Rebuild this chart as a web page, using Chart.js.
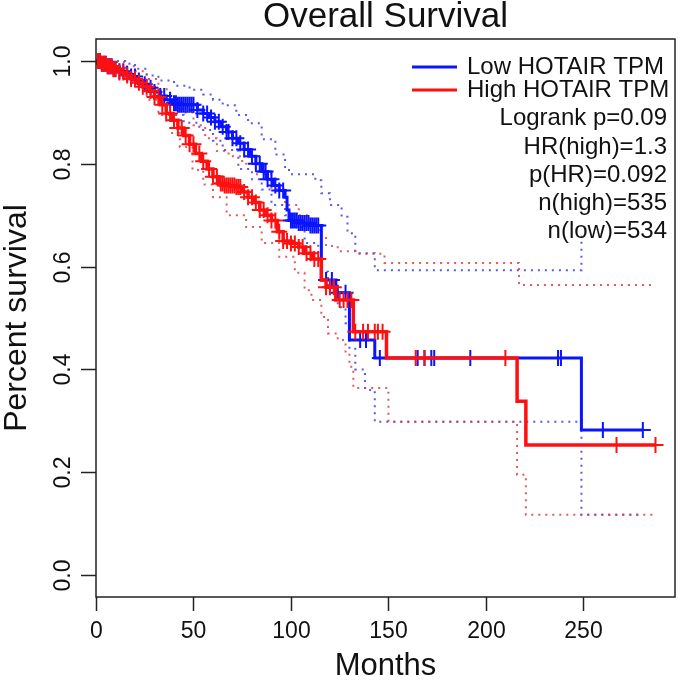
<!DOCTYPE html>
<html>
<head>
<meta charset="utf-8">
<script src="https://cdn.jsdelivr.net/npm/chart.js@4.4.1/dist/chart.umd.min.js"></script>
<style>
html,body{margin:0;padding:0;background:#fff;}
canvas{display:block;}
</style>
</head>
<body>
<canvas id="c" width="685" height="688"></canvas>
<script>
// ---- Data ----
const titleText = "Overall Survival";
const xTitle = "Months";
const yTitle = "Percent survival";
const xTickValues = [0, 50, 100, 150, 200, 250];
const yTickValues = [0.0, 0.2, 0.4, 0.6, 0.8, 1.0];
const yTickLabels = ["0.0", "0.2", "0.4", "0.6", "0.8", "1.0"];
const legendLabels = ["Low HOTAIR TPM", "High HOTAIR TPM"];
const statLines = ["Logrank p=0.09", "HR(high)=1.3", "p(HR)=0.092", "n(high)=535", "n(low)=534"];

// Low HOTAIR (blue) Kaplan-Meier curve
const lowMonths = [0,3,6,9,12,15,18,21,24,27,30,33,36,39,42,52,55,58,61,64,67,70,73,76,79,82,85,88,91,94,97,98,99,104,110,115.6,123,130,143,249,280.5];
const lowSurv   = [1,0.995,0.99,0.985,0.98,0.975,0.97,0.962,0.955,0.948,0.94,0.932,0.925,0.918,0.915,0.905,0.898,0.89,0.882,0.872,0.862,0.85,0.84,0.828,0.815,0.8,0.785,0.77,0.758,0.748,0.735,0.71,0.69,0.685,0.68,0.574,0.549,0.457,0.422,0.282,0.282];
const lowCensor = [1,2,3,4,5,6,7,8,9,10,12,14,16,18,20,22,25,28,30,33,35,38,40,41,42,43,44,45,46,47,48,49,50,52,55,57,59,61,63,65,67,68,70,72,74,76,78,80,82,84,86,87,88,90,92,94,96,100,101,102,103,104,105,106,107,108,109,110,111,112,113,114,118,121,124,128,135.5,138.5,145.6,165,168.5,172,173.5,192,237,238.5,260,280.5];

// High HOTAIR (red) Kaplan-Meier curve
const highMonths = [0,3,6,9,12,15,18,21,24,27,30,33,36,39,42,45,48,51,54,57,60,63,66,72,75,78,81,84,87,90,93,96,100,104,107,111,115.6,118,123,132,149,216,220.5,287];
const highSurv   = [1,0.995,0.99,0.984,0.978,0.972,0.965,0.958,0.95,0.942,0.93,0.915,0.898,0.885,0.87,0.855,0.838,0.82,0.805,0.79,0.775,0.762,0.758,0.755,0.745,0.735,0.725,0.71,0.7,0.69,0.668,0.65,0.645,0.638,0.626,0.615,0.574,0.56,0.535,0.473,0.422,0.338,0.253,0.253];
const highCensor = [1,2,3,4,5,6,7,8,9,10,12,14,16,18,20,22,24,26,28,30,32,34,36,38,40,42,44,46,48,50,53,55,58,60,62,64,65,66,67,68,69,70,71,72,73,74,76,78,80,82,84,86,88,90,92,94,96,98,100,102,104,106,108,110,112,114,118,120,122,125,127,129,131,133,137,139.5,143,144.6,147,164,168.5,210,267,287];

// 95% confidence bands (dotted)
const lowUpperMonths = [0,8,15,20,26,32,40,48,55,60,65,72,78,85,92,97,99,112.5,115.6,120,126,129,133,143,249];
const lowUpperSurv   = [1,1,0.995,0.985,0.972,0.962,0.952,0.944,0.935,0.925,0.914,0.895,0.879,0.848,0.818,0.79,0.78,0.768,0.743,0.72,0.697,0.665,0.626,0.593,0.66];
const lowLowerMonths = [0,8,15,20,26,32,38,45,53,60,65,73,80,85,90,97,102,107,114,115.6,119,124,128,130,133,138,143,249,280.5];
const lowLowerSurv   = [1,0.99,0.975,0.962,0.945,0.92,0.895,0.88,0.866,0.845,0.827,0.79,0.77,0.75,0.72,0.7,0.677,0.646,0.619,0.59,0.554,0.521,0.49,0.44,0.4,0.36,0.298,0.117,0.117];
const highUpperMonths = [0,8,15,20,26,32,38,44,50,56,62,68,75,82,90,97,104,110,115,118,124,133,148,217,287];
const highUpperSurv   = [1,0.998,0.99,0.98,0.965,0.945,0.925,0.9,0.875,0.85,0.825,0.815,0.8,0.78,0.75,0.72,0.7,0.68,0.66,0.64,0.63,0.625,0.607,0.564,0.564];
const highLowerMonths = [0,8,15,20,26,32,38,43,49.5,55,60,67,77,85,94,102,107,110.5,115.6,119,124,128,130,132,150,216,220.5,287];
const highLowerSurv   = [1,0.985,0.965,0.95,0.925,0.895,0.86,0.833,0.788,0.76,0.735,0.7,0.677,0.646,0.619,0.588,0.554,0.535,0.502,0.47,0.457,0.432,0.405,0.364,0.298,0.195,0.117,0.117];

// ---- helpers ----
function pts(xs, ys){ return xs.map((x,i)=>({x:x, y:ys[i]})); }
function stepValue(xs, ys, t){
  let v = ys[0];
  for (let i=0;i<xs.length;i++){ if (xs[i] <= t) v = ys[i]; else break; }
  return v;
}
function censorPts(times, xs, ys){ return times.map(t=>({x:t, y:stepValue(xs, ys, t)})); }

const BLUE = '#0a14ff';
const RED = '#ff1010';
const BLUE_CI = 'rgba(60,60,230,0.85)';
const RED_CI = 'rgba(225,60,70,0.85)';
const FONT = '"Liberation Sans", Arial, Helvetica, sans-serif';

function ciSet(xs, ys, color){
  return {type:'line', data:pts(xs,ys), borderColor:color, borderWidth:2, borderDash:[2,5], pointRadius:0, stepped:true, fill:false};
}

const decor = {
  id:'decor',
  afterDatasetsDraw(chart){
    const ctx = chart.ctx, a = chart.chartArea;
    const xs = chart.scales.x, ys = chart.scales.y;
    ctx.save();
    // box
    ctx.strokeStyle = '#222'; ctx.lineWidth = 1.5;
    ctx.strokeRect(a.left, a.top, a.right - a.left, a.bottom - a.top);
    // x ticks
    ctx.fillStyle = '#111';
    ctx.font = '23px ' + FONT;
    ctx.textAlign = 'center'; ctx.textBaseline = 'middle';
    xTickValues.forEach(v=>{
      const px = Math.round(xs.getPixelForValue(v)) + 0.5;
      ctx.beginPath(); ctx.moveTo(px, a.bottom); ctx.lineTo(px, a.bottom + 14); ctx.stroke();
      ctx.fillText(String(v), px, 632);
    });
    // y ticks (rotated labels)
    yTickValues.forEach((v,i)=>{
      const py = Math.round(ys.getPixelForValue(v)) + 0.5;
      ctx.beginPath(); ctx.moveTo(a.left, py); ctx.lineTo(a.left - 15, py); ctx.stroke();
      ctx.save(); ctx.translate(64, py); ctx.rotate(-Math.PI/2);
      ctx.fillText(yTickLabels[i], 0, 0); ctx.restore();
    });
    // titles
    ctx.font = '35px ' + FONT;
    ctx.fillText(titleText, (a.left + a.right)/2, 17);
    ctx.font = '31px ' + FONT;
    ctx.fillText(xTitle, (a.left + a.right)/2, 666);
    ctx.save(); ctx.translate(17, 318); ctx.rotate(-Math.PI/2);
    ctx.font = '32px ' + FONT;
    ctx.fillText(yTitle, 0, 0); ctx.restore();
    // legend
    ctx.font = '24px ' + FONT;
    ctx.textAlign = 'left';
    const ly = [67, 90];
    [BLUE, RED].forEach((c,i)=>{
      ctx.strokeStyle = c; ctx.lineWidth = 3;
      ctx.beginPath(); ctx.moveTo(412, ly[i]); ctx.lineTo(457, ly[i]); ctx.stroke();
      ctx.fillText(legendLabels[i], 467, ly[i]);
    });
    ctx.textAlign = 'right';
    const sy = [118, 147, 175, 203, 231];
    statLines.forEach((s,i)=> ctx.fillText(s, 667, sy[i]));
    ctx.restore();
  }
};

new Chart(document.getElementById('c'), {
  type:'scatter',
  data:{
    datasets:[
      {type:'scatter', data:censorPts(highCensor, highMonths, highSurv), pointStyle:'cross', pointRadius:8, borderColor:RED, borderWidth:2, backgroundColor:RED},
      {type:'line', data:pts(highMonths, highSurv), borderColor:RED, borderWidth:3.5, pointRadius:0, stepped:true, fill:false},
      {type:'scatter', data:censorPts(lowCensor, lowMonths, lowSurv), pointStyle:'cross', pointRadius:8, borderColor:BLUE, borderWidth:2, backgroundColor:BLUE},
      {type:'line', data:pts(lowMonths, lowSurv), borderColor:BLUE, borderWidth:3, pointRadius:0, stepped:true, fill:false},
      ciSet(highUpperMonths, highUpperSurv, RED_CI),
      ciSet(highLowerMonths, highLowerSurv, RED_CI),
      ciSet(lowUpperMonths, lowUpperSurv, BLUE_CI),
      ciSet(lowLowerMonths, lowLowerSurv, BLUE_CI)
    ]
  },
  options:{
    responsive:false, animation:false, devicePixelRatio:1,
    layout:{padding:{left:96, right:5, top:39, bottom:91}},
    plugins:{legend:{display:false}, tooltip:{enabled:false}, title:{display:false}},
    scales:{
      x:{type:'linear', min:0, max:297, display:false},
      y:{type:'linear', min:-0.043, max:1.043, display:false}
    }
  },
  plugins:[decor]
});
</script>
</body>
</html>
